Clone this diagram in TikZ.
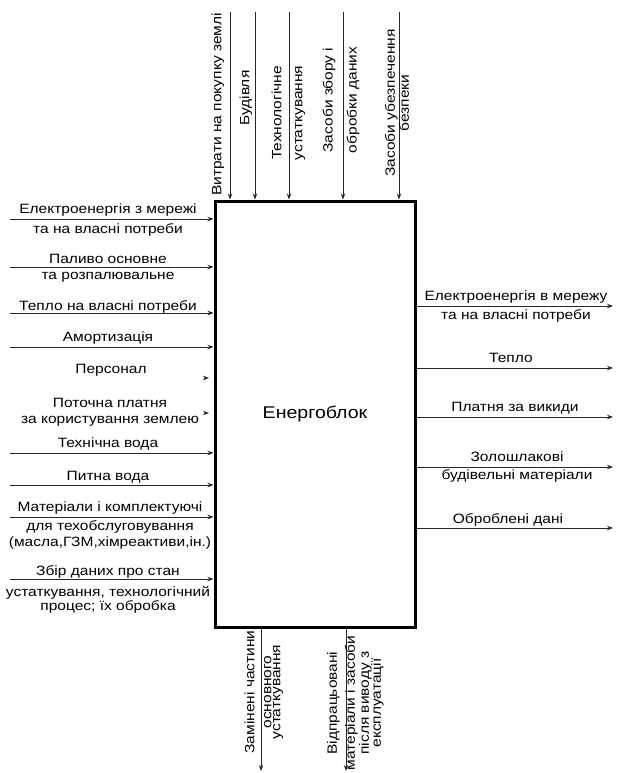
\documentclass[tikz,border=0pt]{standalone}
\usepackage{fontspec}
\setmainfont[FakeStretch=1.15]{Liberation Sans}
\usetikzlibrary{arrows.meta}
\newcommand\lblfont{\fontsize{13.5}{15.5}\selectfont}
\tikzset{
  lbl/.style={align=center,inner sep=0pt,font=\lblfont},
  vlbl/.style={lbl,rotate=90},
  arr/.style={draw=black!85,line width=1pt,->},
  blkbox/.style={draw,line width=3pt,minimum width=200pt,minimum height=426pt,
    inner sep=0pt,font=\fontsize{17}{20}\selectfont}
}
\begin{document}
\begin{tikzpicture}[x=1pt,y=-1pt,>={Stealth[length=6pt,width=4.5pt]}]
\useasboundingbox (0,0) rectangle (616,773);
\node[blkbox] (blk) at (315,414) {Енергоблок};
\foreach \y [count=\i] in {219,267,313,347,453,485,517,579} {
  \coordinate (in\i) at (10,\y);
  \draw[arr] (in\i) -- (in\i -| blk.west);
}
\foreach \y [count=\i] in {378,413} {
  \coordinate (tip\i) at (209,\y);
  \draw[arr] ([xshift=-5pt]tip\i) -- (tip\i);
}
\foreach \y [count=\i] in {306,368,417,467,528} {
  \coordinate (out\i) at (613,\y);
  \draw[arr] (out\i -| blk.east) -- (out\i);
}
\foreach \x [count=\i] in {230,255,289,343,399} {
  \coordinate (ctl\i) at (\x,12);
  \draw[arr] (ctl\i) -- (ctl\i |- blk.north);
}
\foreach \x [count=\i] in {261,346} {
  \coordinate (mech\i) at (\x,771);
  \draw[arr] (mech\i |- blk.south) -- (mech\i);
}
\node[lbl] (inlbl1) at (108,220) {Електроенергія з мережі\\[4.5pt]та на власні потреби};
\node[lbl] (inlbl2) at (108,268.5) {Паливо основне\\та розпалювальне};
\node[lbl] (inlbl3) at (108,307) {Тепло на власні потреби};
\node[lbl] (inlbl4) at (108,338) {Амортизація};
\node[lbl] (inlbl5) at (111,370) {Персонал};
\node[lbl] (inlbl6) at (110,412.5) {Поточна платня\\за користування землею};
\node[lbl] (inlbl7) at (108,444) {Технічна вода};
\node[lbl] (inlbl8) at (108,477) {Питна вода};
\node[lbl] (inlbl9) at (110,525.5) {Матеріали і комплектуючі\\[3.5pt]для техобслуговування\\(масла,ГЗМ,хімреактиви,ін.)};
\node[lbl] (inlbl10) at (108,589.5) {Збір даних про стан\\[5.5pt]устаткування, технологічний\\[-1.5pt]процес; їх обробка};
\node[lbl] (outlbl1) at (516,306.5) {Електроенергія в мережу\\[3.5pt]та на власні потреби};
\node[lbl] (outlbl2) at (511,358) {Тепло};
\node[lbl] (outlbl3) at (515,408) {Платня за викиди};
\node[lbl] (outlbl4) at (517,467) {Золошлакові\\[2.5pt]будівельні матеріали};
\node[lbl] (outlbl5) at (508,520) {Оброблені дані};
\node[vlbl] (ctllbl1) at (218,104.5) {Витрати на покупку землі};
\node[vlbl] (ctllbl2) at (246,98) {Будівля};
\node[vlbl] (ctllbl3) at (288.5,113) {Технологічне\\[5.5pt]устаткування};
\node[vlbl] (ctllbl4) at (341,100) {Засоби збору і\\[8.5pt]обробки даних};
\node[vlbl] (ctllbl5) at (397,103) {Засоби убезпечення\\[-1.5pt]безпеки};
\node[vlbl] (mechlbl1) at (264,692) {Замінені частини\\[1.5pt]основного\\[-6.5pt]устаткування};
\node[vlbl] (mechlbl2) at (355.5,703) {Відпрацьовані\\[2.5pt]матеріали і засоби\\[-1.5pt]після виводу з\\[-3.5pt]експлуатації};
\end{tikzpicture}
\end{document}
